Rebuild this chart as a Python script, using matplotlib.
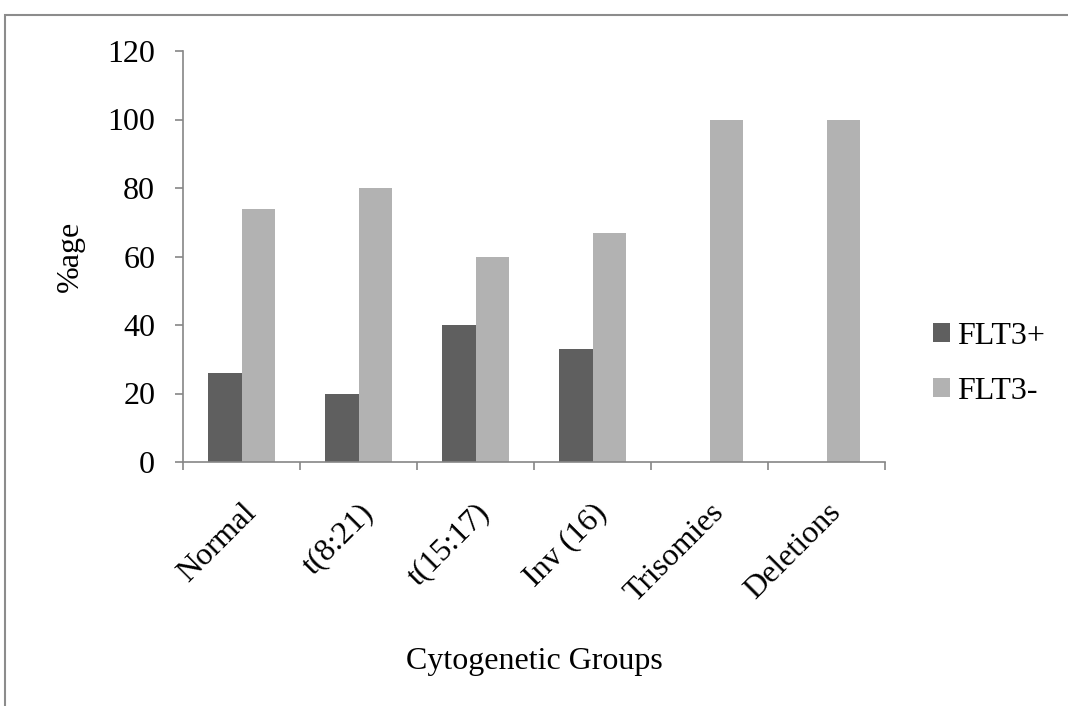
import numpy as np
import matplotlib.pyplot as plt
from matplotlib.patches import Rectangle
from matplotlib.transforms import ScaledTranslation

categories = ["Normal", "t(8:21)", "t(15:17)", "Inv (16)", "Trisomies", "Deletions"]
flt3_pos = [26, 20, 40, 33, 0, 0]
flt3_neg = [74, 80, 60, 67, 100, 100]

plt.rcParams['font.family'] = ['Liberation Serif', 'DejaVu Serif']
FS = 23

fig = plt.figure(figsize=(10.68, 7.06), dpi=100)
ax = fig.add_axes([183 / 1068, 1 - 462 / 706, 702 / 1068, 411 / 706])

# outer chart border (cropped at right/bottom like the source image)
fig.patches.append(Rectangle((5 / 1068, -0.1), 1.2, 1 - 15 / 706 + 0.1,
                             transform=fig.transFigure, fill=False,
                             edgecolor="#8c8c8c", linewidth=1.5))

x = np.arange(len(categories))
bar_w = 1 / 3.5
ax.bar(x - bar_w / 2, flt3_pos, width=bar_w, color="#5f5f5f", label="FLT3+")
ax.bar(x + bar_w / 2, flt3_neg, width=bar_w, color="#b2b2b2", label="FLT3-")

ax.set_xlim(-0.5, len(categories) - 0.5)
ax.set_ylim(0, 120)
ax.set_yticks(range(0, 121, 20))

# ticks at category boundaries, labels at centres
ax.set_xticks(np.arange(-0.5, len(categories), 1))
ax.set_xticklabels([])
ax.set_xticks(x, minor=True)
ax.set_xticklabels(categories, minor=True, rotation=45, ha="right",
                   rotation_mode="anchor", fontsize=FS)
shift = ScaledTranslation(0.05, 0, fig.dpi_scale_trans)
for lbl in ax.get_xticklabels(minor=True):
    lbl.set_transform(lbl.get_transform() + shift)
ax.tick_params(axis="x", which="minor", length=0, pad=26)
ax.tick_params(axis="x", which="major", length=6, color="#868686", width=1.2)
ax.tick_params(axis="y", length=6, color="#868686", width=1.2, labelsize=FS, pad=14)

for side in ["top", "right"]:
    ax.spines[side].set_visible(False)
for side in ["left", "bottom"]:
    ax.spines[side].set_color("#868686")
    ax.spines[side].set_linewidth(1.2)

ax.set_ylabel("%age", fontsize=FS)
ax.yaxis.set_label_coords(-0.14, 0.5)
ax.set_xlabel("Cytogenetic Groups", fontsize=FS)
ax.xaxis.set_label_coords(0.5, -0.45)

fig.legend(loc="center left", bbox_to_anchor=(933 / 1068, 1 - 364 / 706),
           frameon=False, fontsize=FS, handlelength=0.53, handleheight=0.53,
           handletextpad=0.22, labelspacing=0.8, borderpad=0, borderaxespad=0)

fig.savefig("out.png", dpi=100)
